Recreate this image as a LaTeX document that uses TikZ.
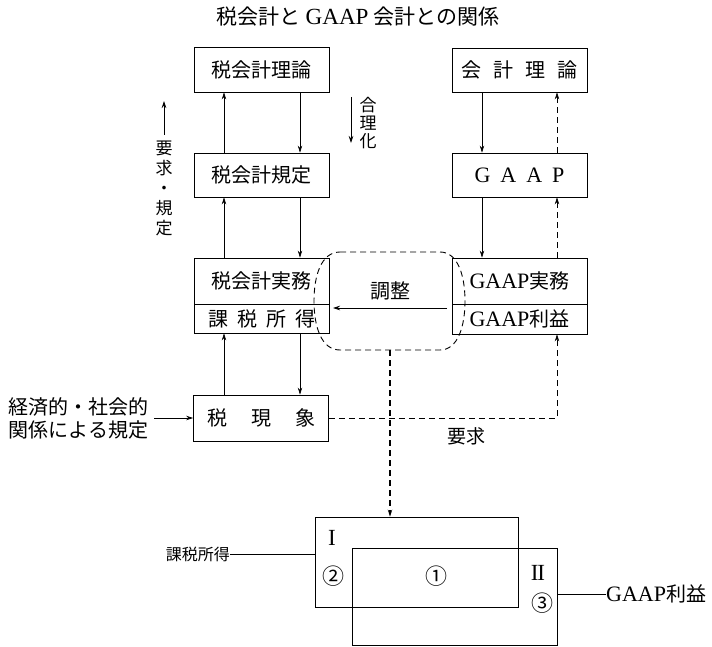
\documentclass[tikz,border=0pt]{standalone}
\usepackage{fontspec}
\setmainfont{Noto Sans CJK JP}
\newfontfamily\lat{Liberation Serif}[Scale=1.1]
\usetikzlibrary{arrows.meta,calc}
\begin{document}
\begin{tikzpicture}[x=1pt,y=-1pt,
  box/.style={draw,line width=0.8pt,minimum width=135pt,inner sep=0pt,font=\fontsize{20}{24}\selectfont},
  lowbox/.style={draw,line width=0.8pt,inner sep=0pt},
  arr/.style={line width=0.7pt,-{Stealth[length=7pt,width=4.5pt]}},
  dsh/.style={dash pattern=on 6pt off 4pt},
  lbl/.style={inner sep=0pt,font=\fontsize{20}{23}\selectfont},
  vlbl/.style={inner sep=0pt,align=center,font=\fontsize{17}{20}\selectfont}]
\fill[white] (0,0) rectangle (712,647);
\useasboundingbox (0,0) rectangle (712,647);

% title
\node[lbl,font=\fontsize{21}{24}\selectfont] (title) at (358,17) {税会計と {\lat GAAP} 会計との関係};

% left column
\node[box,minimum height=45pt] (tl) at (261.5,69.5) {税会計理論};
\node[box,minimum height=44pt] (tk) at (261.5,175) {税会計規定};
\node[box,minimum height=46pt] (tj) at (261.5,281) {税会計実務};
\node[box,minimum height=29pt] (tt) at (261.5,318.5) {課\hspace{9pt}税\hspace{9pt}所\hspace{9pt}得};
\node[box,minimum height=46pt] (tg) at (261,418) {税\hspace{24pt}現\hspace{24pt}象};

% right column
\node[box,minimum height=44pt] (gl) at (519.5,70) {会\hspace{12pt}計\hspace{12pt}理\hspace{12pt}論};
\node[box,minimum height=44pt] (gp) at (519.5,175) {\lat G\hspace{10pt}A\hspace{10pt}A\hspace{10pt}P};
\node[box,minimum height=46pt] (gj) at (519.5,281) {{\lat GAAP}実務};
\node[box,minimum height=30pt] (gr) at (519.5,319) {{\lat GAAP}利益};

% x positions of vertical connectors
\coordinate (ux) at (224,0);
\coordinate (dx) at (300,0);
\coordinate (rx) at (482,0);
\coordinate (qx) at (557,0);

% left arrows
\draw[arr] (tk.north -| ux) -- (tl.south -| ux);
\draw[arr] (tj.north -| ux) -- (tk.south -| ux);
\draw[arr] (tg.north -| ux) -- (tt.south -| ux);
\draw[arr] (tl.south -| dx) -- (tk.north -| dx);
\draw[arr] (tk.south -| dx) -- (tj.north -| dx);
\draw[arr] (tt.south -| dx) -- (tg.north -| dx);

% right arrows
\draw[arr] (gl.south -| rx) -- (gp.north -| rx);
\draw[arr] (gp.south -| rx) -- (gj.north -| rx);
\draw[arr,dsh] (gp.north -| qx) -- (gl.south -| qx);
\draw[arr,dsh] (gj.north -| qx) -- (gp.south -| qx);
\draw[arr,dsh] (tg.east) -| (gr.south -| qx);
\node[lbl,font=\fontsize{19}{22}\selectfont] (yq) at (466,436) {要求};

% side labels
\coordinate (ya) at (164,135);
\coordinate (yb) at (164,101);
\draw[arr] (ya) -- (yb);
\node[vlbl] (yk) at (164,188) {要\\求\\・\\規\\定};
\coordinate (ga) at (351,97);
\coordinate (gb) at (351,143);
\draw[arr] (ga) -- (gb);
\node[vlbl,font=\fontsize{17}{18}\selectfont] (gr2) at (368,123) {合\\理\\化};

% economic label
\node[lbl,align=left] (ec) at (79,418) {経済的・社会的\\関係による規定};
\draw[arr] ([xshift=5pt]ec.east) -- (tg.west);

% adjustment
\node[lbl] (cho) at (390,291) {調整};
\coordinate (cs) at (447,308);
\coordinate (ce) at (333,308);
\draw[arr] (cs) -- (ce);

% dashed blob
\draw[dsh,line width=0.9pt] (340,252) -- (440,252)
  .. controls (458,252) and (465,276) .. (465,301)
  .. controls (465,326) and (458,350) .. (440,350)
  -- (340,350)
  .. controls (321,350) and (314,326) .. (314,301)
  .. controls (314,276) and (321,252) .. (340,252) -- cycle;
\coordinate (bb) at (390,350);

% lower boxes
\node[lowbox,minimum width=203pt,minimum height=90pt] (b1) at (416.5,562) {};
\node[lowbox,minimum width=205pt,minimum height=97pt] (b2) at (454.5,596.5) {};
\draw[arr,dsh,line width=1.3pt] (bb) -- (bb |- b1.north);

\node[lbl,font=\lat\fontsize{21}{24}\selectfont] (r1) at (332,538) {I};
\node[lbl,font=\lat\fontsize{21}{24}\selectfont] (r2) at (538,573) {I\kern-1.2ptI};
\node[lbl,font=\fontsize{22}{24}\selectfont] (c1) at (436,576) {①};
\node[lbl,font=\fontsize{22}{24}\selectfont] (c2) at (333,576) {②};
\node[lbl,font=\fontsize{22}{24}\selectfont] (c3) at (542,603) {③};

\node[lbl,anchor=east,font=\fontsize{16}{18}\selectfont] (kl) at (230,554) {課税所得};
\draw[line width=0.8pt] (kl.east) -- (kl.east -| b1.west);
\node[lbl,anchor=west] (gk) at (606,594) {{\lat GAAP}利益};
\draw[line width=0.8pt] (gk.west -| b2.east) -- (gk.west);
\end{tikzpicture}
\end{document}
